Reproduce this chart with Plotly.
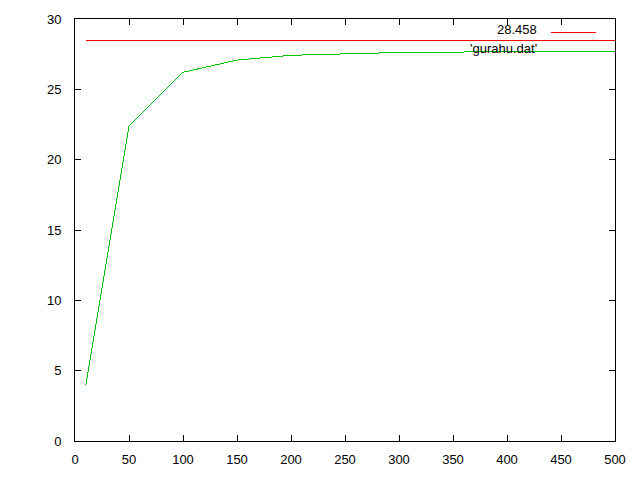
import plotly.graph_objects as go

# Data
const_label = "28.458"
const_x = [10, 500]
const_y = [28.458, 28.458]

data_label = "'gurahu.dat'"
data_x = [10, 50, 100, 150, 200, 250, 300, 350, 400, 450, 500]
data_y = [3.98, 22.39, 26.21, 27.08, 27.42, 27.51, 27.62, 27.65, 27.67, 27.69, 27.70]

x_ticks = [0, 50, 100, 150, 200, 250, 300, 350, 400, 450, 500]
y_ticks = [0, 5, 10, 15, 20, 25, 30]

RED = "#ff0000"
GREEN = "#00c000"
FONT = "Liberation Sans"

fig = go.Figure()
fig.add_trace(go.Scatter(x=const_x, y=const_y, mode="lines",
                         line=dict(color=RED, width=1), name=const_label,
                         showlegend=False, hoverinfo="skip"))
fig.add_trace(go.Scatter(x=data_x, y=data_y, mode="lines",
                         line=dict(color=GREEN, width=1), name=data_label,
                         showlegend=False, hoverinfo="skip"))

axis_common = dict(showgrid=False, zeroline=False, showline=True,
                   linecolor="black", linewidth=1, mirror="ticks",
                   ticks="inside", ticklen=6, tickcolor="black", tickwidth=1,
                   tickfont=dict(family=FONT, size=13, color="black"))

fig.update_xaxes(range=[0, 500], tickvals=x_ticks, ticklabelstandoff=6,
                 **axis_common)
fig.update_yaxes(range=[0, 30], tickvals=y_ticks, ticklabelstandoff=10,
                 **axis_common)

# gnuplot-style key (text right, sample line after it)
fig.add_annotation(xref="paper", yref="paper", x=0.860, y=0.976,
                   text=const_label, showarrow=False, xanchor="right",
                   yanchor="middle", font=dict(family=FONT, size=13, color="black"))
fig.add_annotation(xref="paper", yref="paper", x=0.860, y=0.931,
                   text=data_label, showarrow=False, xanchor="right",
                   yanchor="middle", font=dict(family=FONT, size=13, color="black"))
fig.add_shape(type="line", xref="paper", yref="paper", x0=0.881, x1=0.965,
              y0=0.969, y1=0.969, line=dict(color=RED, width=1))
fig.add_shape(type="line", xref="paper", yref="paper", x0=0.881, x1=0.965,
              y0=0.924, y1=0.924, line=dict(color=GREEN, width=1))

fig.update_layout(width=640, height=480, paper_bgcolor="white",
                  plot_bgcolor="white",
                  margin=dict(l=75, r=25, t=19, b=39),
                  showlegend=False, hovermode=False)

fig.write_html(
    "out.html",
    config={"displayModeBar": False, "staticPlot": True},
    post_script=(
        "document.body.style.margin='0';"
        "document.body.style.overflow='hidden';"
        "var s=document.createElement('style');"
        "s.textContent='svg path{shape-rendering:crispEdges;}';"
        "document.head.appendChild(s);"
    ),
)
